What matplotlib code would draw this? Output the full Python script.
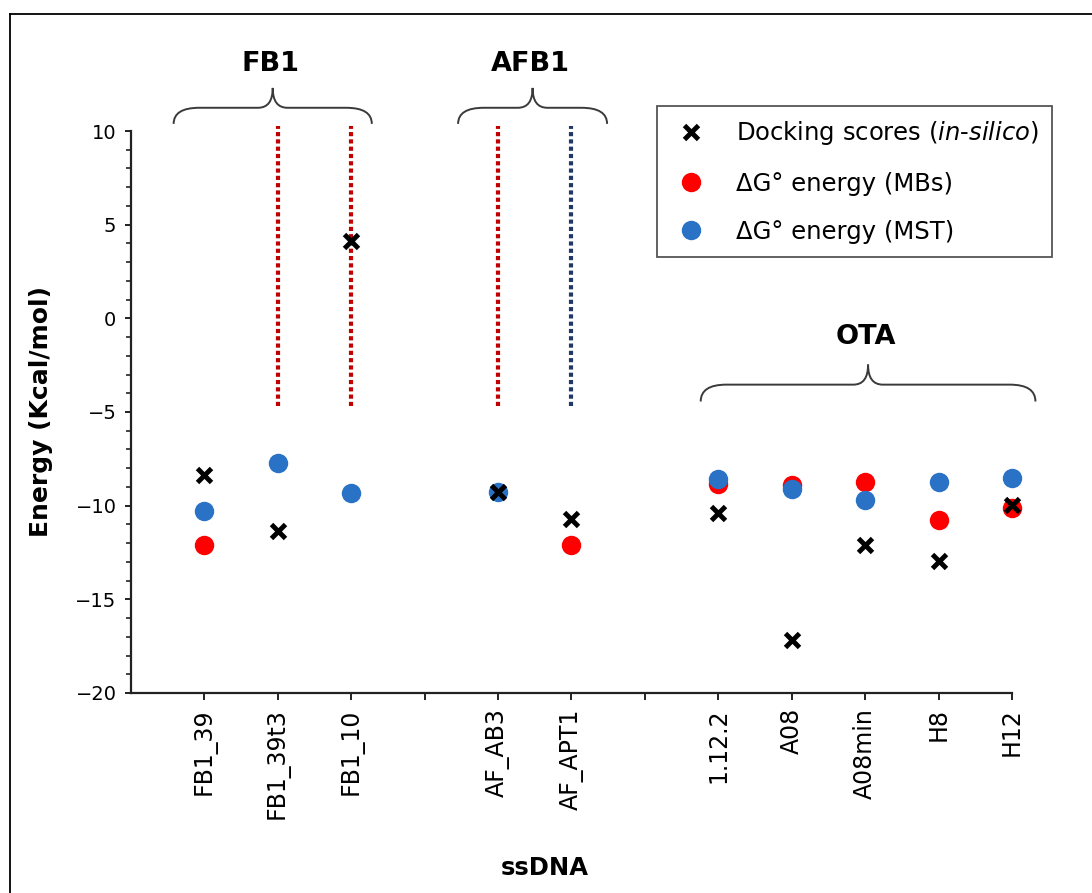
import numpy as np
import matplotlib
matplotlib.use("Agg")
import matplotlib.pyplot as plt
from matplotlib.path import Path
from matplotlib.patches import PathPatch
from matplotlib.lines import Line2D
from matplotlib.ticker import MultipleLocator

# ---------------- data ----------------
groups = ["FB1", "AFB1", "OTA"]
group_sizes = [3, 2, 5]
categories = ["FB1_39", "FB1_39t3", "FB1_10",
              "AF_AB3", "AF_APT1",
              "1.12.2", "A08", "A08min", "H8", "H12"]
docking = [-8.35, -11.35, 4.15, -9.25, -10.7, -10.4, -17.15, -12.1, -12.95, -9.95]
dg_mbs = [-12.1, np.nan, np.nan, np.nan, -12.1, -8.85, -8.9, -8.75, -10.75, -10.1]
dg_mst = [-10.3, -7.75, -9.3, -9.25, np.nan, -8.6, -9.1, -9.7, -8.75, -8.5]
yticks = [-20, -15, -10, -5, 0, 5, 10]

# ---------------- style ----------------
plt.rcParams['font.family'] = ['DejaVu Sans']
RED = "#FF0000"
BLUE = "#2A72C6"
DOT_RED = "#C00000"
DOT_NAVY = "#1F3864"

fig = plt.figure(figsize=(10.92, 8.93), dpi=100)
ax = fig.add_axes([0.12, 0.224, 0.8067, 0.6293])

# x positions: categories in groups separated by one empty slot
xpos = []
p = 0
group_first, group_last = [], []
for g, n in zip(groups, group_sizes):
    group_first.append(p)
    for i in range(n):
        xpos.append(p)
        p += 1
    group_last.append(p - 1)
    p += 1
xpos = np.array(xpos, dtype=float)

ax.set_xlim(-1, 11)
ax.set_ylim(-20, 10)

# dotted lines where a value was not measured
for x, v in zip(xpos, dg_mbs):
    if np.isnan(v):
        ax.plot([x, x], [-4.7, 10.25], color=DOT_RED, lw=3.0,
                linestyle=(0, (1, 0.75)), dash_capstyle='butt', clip_on=False, zorder=1)
for x, v in zip(xpos, dg_mst):
    if np.isnan(v):
        ax.plot([x, x], [-4.7, 10.25], color=DOT_NAVY, lw=3.0,
                linestyle=(0, (1, 0.75)), dash_capstyle='butt', clip_on=False, zorder=1)

ax.plot(xpos, dg_mbs, linestyle='none', marker='o', ms=14, color=RED,
        markeredgewidth=0, clip_on=False, zorder=3, label="ΔG° energy (MBs)")
ax.plot(xpos, dg_mst, linestyle='none', marker='o', ms=14, color=BLUE,
        markeredgewidth=0, clip_on=False, zorder=4, label="ΔG° energy (MST)")
ax.plot(xpos, docking, linestyle='none', marker='x', ms=10.5, color='black',
        markeredgewidth=3.5, clip_on=False, zorder=5,
        label=r"Docking scores ($\it{in}$-$\it{silico}$)")

# axes styling
for s in ['top', 'right']:
    ax.spines[s].set_visible(False)
for s in ['left', 'bottom']:
    ax.spines[s].set_color('#222222')
    ax.spines[s].set_linewidth(1.6)

ax.set_yticks(yticks)
ax.set_yticklabels([str(v).replace('-', '\u2212') for v in yticks])
ax.yaxis.set_minor_locator(MultipleLocator(1))
ax.tick_params(axis='y', which='major', direction='out', length=4.5, width=1.4,
               labelsize=14, pad=6, color='#222222')
ax.tick_params(axis='y', which='minor', direction='out', length=3.5, width=1.2,
               color='#222222')

ax.set_xticks(np.arange(0, 12))
labels = [''] * 12
for x, c in zip(xpos, categories):
    labels[int(x)] = c
ax.set_xticklabels(labels, rotation=90, va='top', ha='center')
ax.tick_params(axis='x', which='major', direction='out', length=5, width=1.4,
               labelsize=17, pad=6, color='#222222')

ax.set_ylabel("Energy (Kcal/mol)", fontsize=18, fontweight='bold')
ax.yaxis.set_label_coords(-0.089, 0.5)
ax.set_xlabel("ssDNA", fontsize=17.5, fontweight='bold')
ax.xaxis.set_label_coords(0.47, -0.29)

# legend
handles = [ax.lines[-1], ax.lines[-3], ax.lines[-2]]
leg = ax.legend(handles=handles, loc='upper left',
                bbox_to_anchor=(657 / 1092, 1 - 106 / 893), bbox_transform=fig.transFigure,
                borderaxespad=0, fontsize=17.5, frameon=True, fancybox=False,
                framealpha=1, edgecolor='#555555', borderpad=0.55,
                labelspacing=1.0, handlelength=1.7, handletextpad=1.0,
                numpoints=1)
leg.get_frame().set_linewidth(1.3)

# group braces and labels
brace_pad = [(-0.42, 0.28), (-0.545, 0.485), (-0.24, 0.32)]
brace_levels = [(10.38, 11.24, 12.3, 13.6), (10.38, 11.24, 12.3, 13.6),
                (-4.44, -3.54, -2.47, -1.0)]
d_end, d_mid = 0.35, 0.2
for g, f, l, (pl, pr), (ye, yh, yp, yt) in zip(groups, group_first, group_last,
                                                brace_pad, brace_levels):
    x0 = f + pl
    x1 = l + pr
    xc = (x0 + x1) / 2
    verts = [(x0, ye), (x0, yh), (x0 + d_end, yh), (xc - d_mid, yh), (xc, yh), (xc, yp),
             (x1, ye), (x1, yh), (x1 - d_end, yh), (xc + d_mid, yh), (xc, yh), (xc, yp)]
    codes = [Path.MOVETO, Path.CURVE3, Path.CURVE3, Path.LINETO, Path.CURVE3, Path.CURVE3,
             Path.MOVETO, Path.CURVE3, Path.CURVE3, Path.LINETO, Path.CURVE3, Path.CURVE3]
    ax.add_patch(PathPatch(Path(verts, codes), facecolor='none', edgecolor='#3a3a3a',
                           lw=1.4, clip_on=False))
    ax.text(xc - 0.03, yt, g, ha='center', va='center', fontsize=19.5,
            fontweight='bold', clip_on=False)

# outer frame (partial)
fig.add_artist(Line2D([9.5 / 1092, 9.5 / 1092], [0, 1 - 14.3 / 893],
                      transform=fig.transFigure, color='black', lw=1.3))
fig.add_artist(Line2D([9.5 / 1092, 1], [1 - 14.3 / 893, 1 - 14.3 / 893],
                      transform=fig.transFigure, color='black', lw=1.3))

fig.savefig("out.png", dpi=100)
